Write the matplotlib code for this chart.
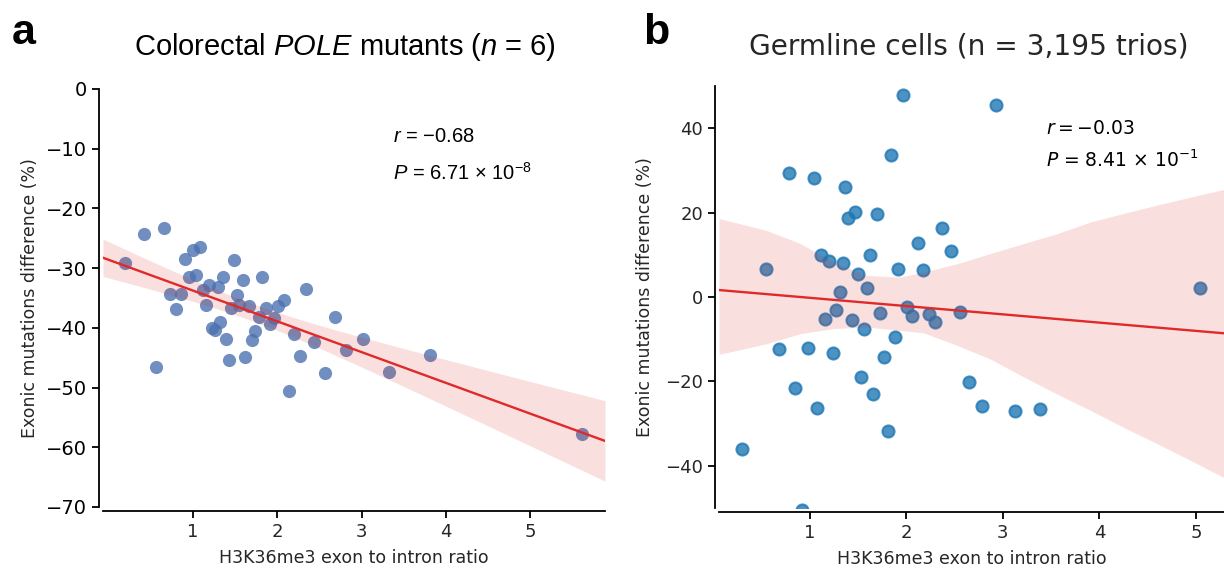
import numpy as np
import matplotlib
matplotlib.use('Agg')
import matplotlib.pyplot as plt

# Panel a: colorectal POLE mutants
pole_x = [0.19, 0.42, 0.65, 0.56, 0.73, 0.86, 0.80, 0.90, 1.00, 1.08,
          0.95, 1.04, 1.12, 1.15, 1.19, 1.29, 1.35, 1.48, 1.59, 1.82,
          1.52, 1.45, 1.55, 1.66, 1.32, 1.22, 1.26, 1.39, 1.42, 1.62,
          1.74, 1.70, 1.78, 1.87, 1.96, 1.91, 2.01, 2.08, 2.34, 2.20,
          2.27, 2.14, 2.44, 2.56, 2.68, 2.82, 3.02, 3.32, 3.81, 5.62]
pole_y = [-29.2, -24.2, -23.2, -46.6, -34.4, -34.4, -36.9, -28.5, -27.0, -26.4,
          -31.4, -31.2, -33.7, -36.2, -32.8, -33.2, -31.4, -28.7, -32.0, -31.4,
          -34.5, -36.6, -36.2, -36.3, -39.0, -40.0, -40.4, -41.8, -45.4, -44.9,
          -40.5, -42.0, -38.1, -36.6, -38.4, -39.4, -36.3, -35.3, -33.5, -41.0,
          -44.7, -50.6, -42.4, -47.6, -38.2, -43.7, -41.8, -47.4, -44.6, -57.7]

# Panel b: germline trios (only the visible points)
germ_x = [1.97, 2.93, 1.84, 0.78, 1.04, 1.37, 1.47, 1.40, 1.70, 2.37,
          2.12, 2.46, 1.12, 1.20, 1.34, 1.62, 0.55, 1.91, 2.17, 1.50,
          1.59, 1.31, 1.27, 1.16, 1.44, 1.73, 2.01, 2.06, 2.23, 2.30,
          2.56, 1.56, 1.88, 0.68, 0.98, 1.24, 1.77, 1.53, 0.85, 1.66,
          2.65, 1.08, 2.78, 1.81, 0.30, 0.92, 3.13, 3.38, 5.04]
germ_y = [47.9, 45.5, 33.6, 29.3, 28.3, 26.0, 20.2, 18.7, 19.6, 16.4,
          12.9, 10.8, 9.9, 8.5, 8.1, 10.0, 6.6, 6.7, 6.3, 5.5,
          2.1, 1.3, -3.0, -5.1, -5.5, -3.9, -2.3, -4.4, -4.1, -5.9,
          -3.6, -7.7, -9.4, -12.3, -12.0, -13.2, -14.2, -19.0, -21.6, -22.9,
          -20.1, -26.3, -25.9, -31.8, -36.1, -50.4, -27.0, -26.6, 2.2]

germ_fit_x = [0.06, 5.29]
germ_fit_y = [1.65, -8.6]
germ_band_x = [0.06, 0.55, 0.90, 1.24, 1.59, 1.93, 2.18, 2.53, 2.87, 3.22, 3.56,
               3.91, 4.25, 4.60, 4.95, 5.29]
germ_band_hi = [18.6, 15.8, 12.7, 8.3, 5.1, 4.7, 5.9, 7.9, 10.3, 12.7, 15.0,
                17.8, 19.8, 21.8, 23.7, 25.5]
germ_band_lo = [-13.6, -11.1, -8.7, -7.5, -7.1, -7.9, -8.5, -11.5, -14.7, -19.0, -23.0,
                -26.9, -30.9, -34.8, -38.8, -42.8]

plt.rcParams['mathtext.fontset'] = 'custom'
plt.rcParams['mathtext.rm'] = 'Liberation Sans'
plt.rcParams['mathtext.it'] = 'Liberation Sans:italic'
plt.rcParams['font.family'] = 'DejaVu Sans'

RED = '#e02a2a'
GREY = '#262626'
MINUS = '\u2212'
TIMES = '\u00d7'


def fit_band(ax, x, y, xlim):
    # least squares line with analytic 95% band
    x = np.asarray(x)
    y = np.asarray(y)
    n = len(x)
    slope, icpt = np.polyfit(x, y, 1)
    xs = np.linspace(xlim[0], xlim[1], 200)
    ys = icpt + slope * xs
    resid = y - (icpt + slope * x)
    s = np.sqrt(np.sum(resid ** 2) / (n - 2))
    sxx = np.sum((x - x.mean()) ** 2)
    half = 2.01 * s * np.sqrt(1.0 / n + (xs - x.mean()) ** 2 / sxx)
    ax.plot(xs, ys, color=RED, lw=1.7, zorder=3)
    ax.fill_between(xs, ys - half, ys + half, color=RED, alpha=0.15, lw=0, zorder=3)


def style_axes(ax, size):
    for side in ['top', 'right']:
        ax.spines[side].set_visible(False)
    for side in ['left', 'bottom']:
        ax.spines[side].set_position(('outward', 3))
        ax.spines[side].set_linewidth(1.3)
    ax.tick_params(direction='out', length=5, width=1.3, labelsize=size)


fig = plt.figure(figsize=(12.24, 5.71), dpi=100)

# panel a
ax1 = fig.add_axes([103 / 1224, 1 - 507 / 571, 502 / 1224, 418 / 571])
xlim1 = (-0.07, 5.89)
ax1.scatter(pole_x, pole_y, s=90, color='#4c72b0', alpha=0.8, lw=0, zorder=2)
fit_band(ax1, pole_x, pole_y, xlim1)
ax1.set_xlim(*xlim1)
ax1.set_ylim(-70, 0)
ax1.set_xticks([1, 2, 3, 4, 5])
yt1 = np.arange(-70, 1, 10)
ax1.set_yticks(yt1)
ax1.set_yticklabels([str(v).replace('-', MINUS) for v in yt1], family='Liberation Sans')
style_axes(ax1, 13)
ax1.tick_params(axis='y', labelsize=14)
ax1.tick_params(axis='x', labelcolor=GREY)
ax1.set_xlabel('H3K36me3 exon to intron ratio', fontsize=12.5, color=GREY, labelpad=6)
ax1.set_ylabel('Exonic mutations difference (%)', fontsize=12.5, color=GREY, labelpad=5)
fig.text(345 / 1224, 1 - 47 / 571, 'Colorectal $\\mathit{POLE}$ mutants ($\\mathit{n}$ = 6)',
         family='Liberation Sans', math_fontfamily='custom', fontsize=21,
         ha='center', va='center')
fig.text(393 / 1224, 1 - 136 / 571, '$\\mathit{r}$ = ' + MINUS + '0.68', family='Liberation Sans',
         math_fontfamily='custom', fontsize=14.5, va='center')
fig.text(393 / 1224, 1 - 173 / 571, '$\\mathit{P}$ = 6.71 ' + TIMES + ' 10$^{-8}$',
         family='Liberation Sans', math_fontfamily='custom', fontsize=14.5, va='center')

# panel b
ax2 = fig.add_axes([719 / 1224, 1 - 508 / 571, 505 / 1224, 422 / 571])
ax2.scatter(germ_x, germ_y, s=75, color='#1f77b4', edgecolors='#1f77b4', alpha=0.8,
            lw=1.5, zorder=2)
ax2.plot(germ_fit_x, germ_fit_y, color=RED, lw=1.7, zorder=3)
ax2.fill_between(germ_band_x, germ_band_lo, germ_band_hi, color=RED, alpha=0.15,
                 lw=0, zorder=3)
ax2.set_xlim(0.06, 5.29)
ax2.set_ylim(-50, 50)
ax2.set_xticks([1, 2, 3, 4, 5])
ax2.set_yticks([-40, -20, 0, 20, 40])
style_axes(ax2, 13)
ax2.tick_params(labelcolor=GREY)
ax2.set_xlabel('H3K36me3 exon to intron ratio', fontsize=12.5, color=GREY, labelpad=6)
ax2.set_ylabel('Exonic mutations difference (%)', fontsize=12.5, color=GREY, labelpad=8)
fig.text(969 / 1224, 1 - 47 / 571, 'Germline cells (n = 3,195 trios)', fontsize=20.2,
         color=GREY, ha='center', va='center')
fig.text(1046 / 1224, 1 - 128 / 571, '$r = -0.03$', math_fontfamily='dejavusans',
         fontsize=13.5, va='center')
fig.text(1046 / 1224, 1 - 160 / 571, '$P$ = 8.41 ' + TIMES + ' 10$^{-1}$',
         math_fontfamily='dejavusans', fontsize=13.5, va='center')

fig.text(12 / 1224, 1 - 44 / 571, 'a', family='Liberation Sans', fontweight='bold',
         fontsize=31, va='baseline')
fig.text(643 / 1224, 1 - 44 / 571, 'b', family='Liberation Sans', fontweight='bold',
         fontsize=31, va='baseline')

fig.savefig('out.png', dpi=100)
